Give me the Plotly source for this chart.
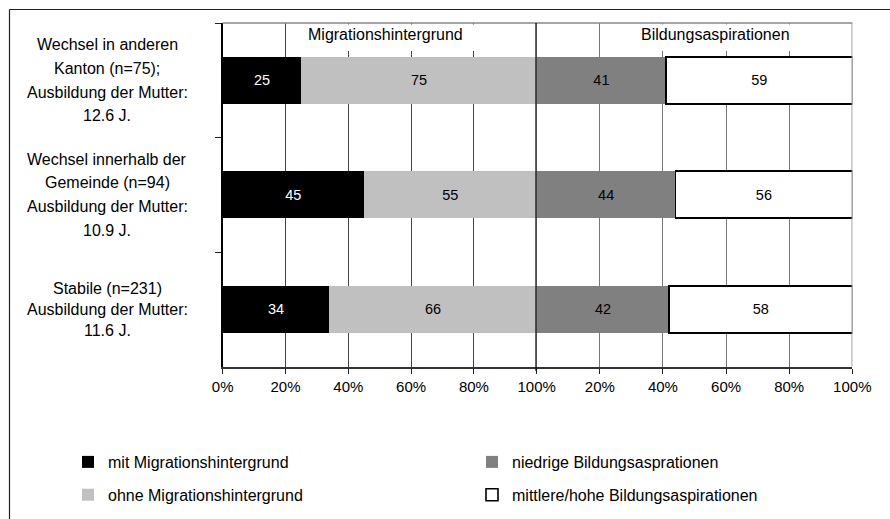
import plotly.graph_objects as go

# ---------------- data ----------------
categories = ["Kanton", "Gemeinde", "Stabile"]
category_lines = [
    ["Wechsel in anderen", "Kanton (n=75);", "Ausbildung der Mutter:", "12.6 J."],
    ["Wechsel innerhalb der", "Gemeinde (n=94)", "Ausbildung der Mutter:", "10.9 J."],
    ["Stabile (n=231)", "Ausbildung der Mutter:", "11.6 J."],
]
mit_migration = [25, 45, 34]
ohne_migration = [75, 55, 66]
niedrige_aspiration = [41, 44, 42]
hohe_aspiration = [59, 56, 58]

panel_titles = ["Migrationshintergrund", "Bildungsaspirationen"]
series_names = [
    "mit Migrationshintergrund",
    "ohne Migrationshintergrund",
    "niedrige Bildungsasprationen",
    "mittlere/hohe Bildungsaspirationen",
]
left_ticks = [0, 20, 40, 60, 80, 100]
left_ticktext = ["0%", "20%", "40%", "60%", "80%", "100%"]
right_ticks = [20, 40, 60, 80, 100]
right_ticktext = ["20%", "40%", "60%", "80%", "100%"]

# ---------------- layout geometry ----------------
# The page body margin is removed (post_script), so figure pixels equal
# window pixels.
W, H = 890, 519
FONT = "Liberation Sans, Arial, sans-serif"
px = lambda v: v / W
py = lambda v: 1 - v / H

x_left = [px(222.7), px(536.7)]
x_right = [px(536.7), px(852.3)]
y_dom = [py(366.5), py(23)]

fig = go.Figure()


def add_bar(vals, name, color, textcolor, xaxis, legend, group, line_color=None, line_w=0):
    fig.add_trace(go.Bar(
        y=categories, x=vals, orientation="h", name=name,
        xaxis=xaxis, yaxis="y",
        marker=dict(color=color, line=dict(color=line_color or color, width=line_w)),
        text=vals, texttemplate="%{x}", textposition="inside",
        insidetextanchor="middle", constraintext="none",
        textfont=dict(family=FONT, size=14.5, color=textcolor),
        legend=legend, legendgroup=group, hoverinfo="skip",
    ))


add_bar(mit_migration, series_names[0], "#000000", "#ffffff", "x", "legend", "a")
add_bar(ohne_migration, series_names[1], "#c0c0c0", "#000000", "x", "legend", "b")
add_bar(niedrige_aspiration, series_names[2], "#808080", "#000000", "x2", "legend2", "c")
add_bar(hohe_aspiration, series_names[3], "#ffffff", "#000000", "x2", "legend2", "d",
        line_color="#000000", line_w=1.6)

axis_common = dict(
    range=[0, 100], showgrid=True, gridwidth=1,
    zeroline=False, showline=True, linecolor="#333333", linewidth=2,
    ticks="outside", ticklen=5, tickcolor="#222222", tickwidth=1,
    tickfont=dict(family=FONT, size=15, color="#000000"),
    anchor="y", fixedrange=True, automargin=False,
)

fig.update_layout(
    width=W, height=H,
    margin=dict(l=0, r=0, t=0, b=0, pad=0, autoexpand=False),
    paper_bgcolor="white", plot_bgcolor="white",
    barmode="stack", bargap=0.59,
    font=dict(family=FONT, size=15, color="#000000"),
    xaxis=dict(domain=x_left, tickvals=left_ticks, ticktext=left_ticktext,
               gridcolor="#444444", **axis_common),
    xaxis2=dict(domain=x_right, tickvals=right_ticks, ticktext=right_ticktext,
                gridcolor="#777777", **axis_common),
    yaxis=dict(domain=y_dom, categoryorder="array", categoryarray=categories,
               autorange="reversed", showticklabels=False, tickson="boundaries",
               ticks="outside", ticklen=6, tickcolor="#222222", showline=True,
               linecolor="#000000", linewidth=1.5, showgrid=False, zeroline=False,
               anchor="x", fixedrange=True, automargin=False),
    legend=dict(x=px(68), y=py(445), xanchor="left", yanchor="top",
                bgcolor="rgba(0,0,0,0)", font=dict(family=FONT, size=16),
                tracegroupgap=9, traceorder="grouped"),
    legend2=dict(x=px(472), y=py(445), xanchor="left", yanchor="top",
                 bgcolor="rgba(0,0,0,0)", font=dict(family=FONT, size=16),
                 tracegroupgap=9, traceorder="grouped"),
    showlegend=True,
)

shapes = [
    # outer frame (left and top edges)
    dict(type="line", xref="paper", yref="paper", x0=px(9.5), x1=px(9.5), y0=0, y1=py(9.5),
         line=dict(color="#222222", width=1.2), layer="below"),
    dict(type="line", xref="paper", yref="paper", x0=px(9.5), x1=1, y0=py(9.5), y1=py(9.5),
         line=dict(color="#222222", width=1.2), layer="below"),
    # top border of plot
    dict(type="line", xref="paper", yref="paper", x0=x_left[0], x1=x_right[1],
         y0=y_dom[1], y1=y_dom[1], line=dict(color="#888888", width=1.5), layer="above"),
    # right border
    dict(type="line", xref="x2", yref="paper", x0=100, x1=100,
         y0=y_dom[0], y1=y_dom[1], line=dict(color="#888888", width=1.5), layer="above"),
    # white title boxes
    dict(type="rect", xref="x", yref="paper", x0=20.3, x1=84, y0=py(51), y1=py(24.5),
         fillcolor="white", line=dict(width=0), layer="above"),
    dict(type="rect", xref="x2", yref="paper", x0=20.3, x1=87.6, y0=py(51), y1=py(24.5),
         fillcolor="white", line=dict(width=0), layer="above"),
    # panel divider
    dict(type="line", xref="x", yref="paper", x0=100, x1=100,
         y0=py(371), y1=y_dom[1], line=dict(color="#000000", width=2.6), layer="above"),
]
fig.update_layout(shapes=shapes)

annotations = [
    dict(text=panel_titles[0], xref="x", yref="paper", x=52, y=py(34.5),
         showarrow=False, font=dict(family=FONT, size=16), xanchor="center", yanchor="middle"),
    dict(text=panel_titles[1], xref="x2", yref="paper", x=56.5, y=py(34.5),
         showarrow=False, font=dict(family=FONT, size=16), xanchor="center", yanchor="middle"),
]
for cat, lines in zip(categories, category_lines):
    n = len(lines)
    spacing = 23.7 if n == 4 else 20.8
    for i, line in enumerate(lines):
        annotations.append(dict(
            text=line, xref="paper", yref="y", x=px(107), y=cat,
            yshift=-(i - (n - 1) / 2) * spacing, showarrow=False,
            xanchor="center", yanchor="middle",
            font=dict(family=FONT, size=16, color="#000000"),
        ))
fig.update_layout(annotations=annotations)

fig.write_html(
    "out.html",
    config={"displayModeBar": False, "staticPlot": True},
    post_script="document.body.style.margin='0px';"
                "document.documentElement.style.overflow='hidden';",
)
